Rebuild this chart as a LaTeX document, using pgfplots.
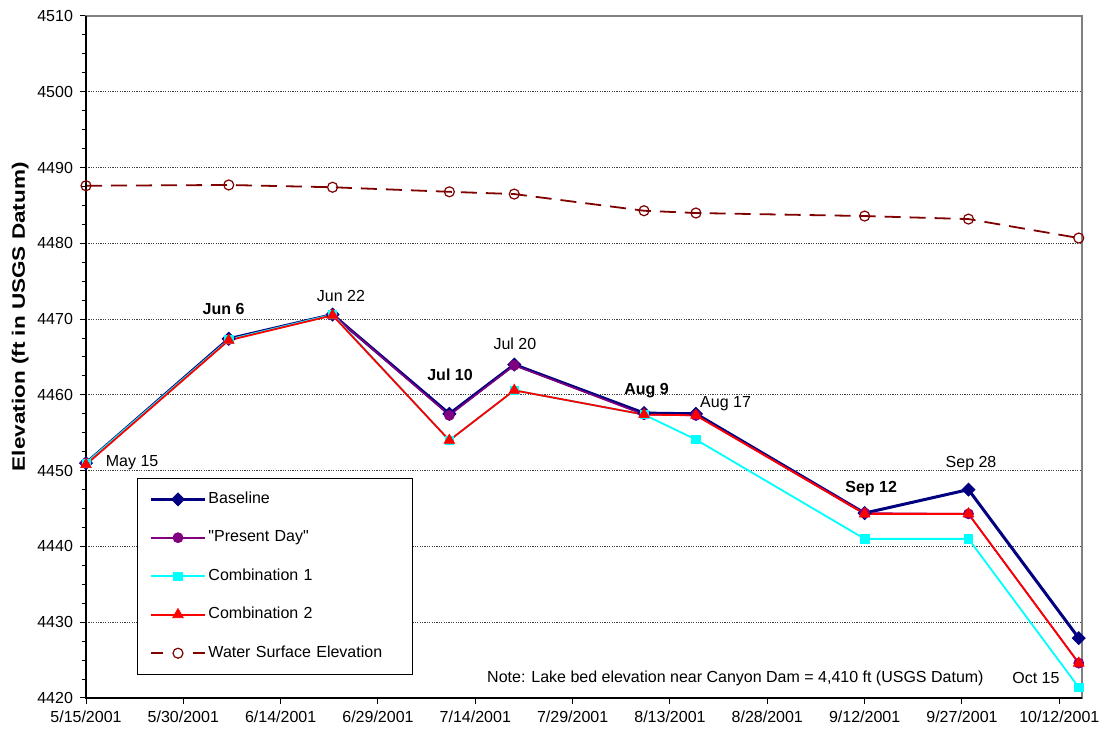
\documentclass[border=0pt]{standalone}
\usepackage{pgfplots}
\pgfplotsset{compat=1.18}
\usepackage{graphicx}
\usepackage{fontspec}
\setmainfont{Liberation Sans}
\newfontfamily\plainq{Liberation Sans}
\definecolor{navyc}{RGB}{0,0,128}
\definecolor{purplec}{RGB}{128,0,128}
\definecolor{cyanc}{RGB}{0,255,255}
\definecolor{redc}{RGB}{255,0,0}
\definecolor{darkredc}{RGB}{128,0,0}
\begin{document}
\begin{tikzpicture}
\begin{axis}[
  name=ax,
  scale only axis,
  width=498pt, height=341pt,
  xmin=0, xmax=153.5,
  ymin=4420, ymax=4510,
  clip=false,
  xtick={0,15,...,150},
  xticklabels={5/15/2001,5/30/2001,6/14/2001,6/29/2001,7/14/2001,7/29/2001,8/13/2001,8/28/2001,9/12/2001,9/27/2001,10/12/2001},
  ytick={4420,4430,...,4510},
  minor y tick num=3,
  yticklabel style={/pgf/number format/1000 sep={}},
  /pgf/number format/assume math mode=true,
  tick label style={font=\fontsize{8}{9}\selectfont},
  xtick pos=bottom, ytick pos=left,
  tick align=outside,
  major tick length=3pt, minor tick length=2pt,
  tick style={black, line width=0.5pt},
  ymajorgrids,
  major grid style={black!75, line width=0.4pt, dash pattern=on 0.6pt off 0.6pt},
  axis line style={gray, line width=0.6pt},
  ylabel={\scalebox{1.25}[1]{\bfseries Elevation (ft in USGS Datum)}},
  ylabel style={font=\fontsize{9}{10}\selectfont, inner sep=0pt, at={(rel axis cs:0,0.559)}, anchor=south, yshift=28.5pt},
  legend style={at={(rel axis cs:0.0512,0.0337)}, anchor=south west, draw=black, line width=0.5pt,
    font=\fontsize{8}{9}\selectfont, row sep=10pt, inner xsep=6pt, inner ysep=6pt,
    nodes={text width=95pt, align=left, inner sep=1pt}},
  legend cell align=left,
  legend image code/.code={
    \draw[mark repeat=2,mark phase=2,#1] plot coordinates {(0pt,0pt) (13.5pt,0pt) (27pt,0pt)};
  },
]
\addplot[color=navyc, line width=1.5pt, mark=square*, mark size=2.3pt, mark options={solid, rotate=45, line width=0.4pt, fill=navyc, draw=navyc}] coordinates {
(0,4451.0) (22,4467.4) (38,4470.6) (56,4457.5) (66,4464.0) (86,4457.6) (94,4457.5) (120,4444.4) (136,4447.5) (153,4427.9)};
\addlegendentry{Baseline}
\addplot[color=purplec, line width=0.8pt, mark=*, mark size=2.5pt, mark options={solid, fill=purplec, draw=purplec, line width=0.4pt}] coordinates {
(0,4451.0) (22,4467.3) (38,4470.6) (56,4457.3) (66,4463.9) (86,4457.4) (94,4457.3) (120,4444.4) (136,4444.3) (153,4424.6)};
\addlegendentry{{\plainq "}Present Day{\plainq "}}
\addplot[color=cyanc, line width=0.9pt, mark=square*, mark size=2.1pt, mark options={solid, fill=cyanc, draw=cyanc, line width=0.3pt}] coordinates {
(0,4451.0) (22,4467.3) (38,4470.6) (56,4454.0) (66,4460.6) (86,4457.4) (94,4454.1) (120,4441.0) (136,4441.0) (153,4421.4)};
\addlegendentry{Combination 1}
\addplot[color=redc, line width=0.9pt, mark=triangle*, mark size=3.1pt, mark options={solid, fill=redc, draw=redc, line width=0.3pt}] coordinates {
(0,4450.8) (22,4467.2) (38,4470.5) (56,4454.0) (66,4460.6) (86,4457.4) (94,4457.3) (120,4444.3) (136,4444.3) (153,4424.6)};
\addlegendentry{Combination 2}
\addplot[color=darkredc, line width=0.9pt, dash pattern=on 8pt off 4.5pt, mark=o, mark size=2.5pt, mark options={solid, fill=white, draw=darkredc, line width=0.6pt},
  legend image post style={dash pattern=on 6pt off 15pt}] coordinates {
(0,4487.6) (22,4487.7) (38,4487.4) (56,4486.8) (66,4486.5) (86,4484.3) (94,4484.0) (120,4483.6) (136,4483.2) (153,4480.7)};
\addlegendentry{Water Surface Elevation}
\draw[black, line width=0.6pt] (rel axis cs:0,1) -- (rel axis cs:0,0) -- (rel axis cs:1,0);
\begin{scope}[every node/.style={font=\fontsize{8}{9}\selectfont, inner sep=0pt}]
\node[anchor=west] at (axis cs:3.0,4451.0) {May 15};
\node at (axis cs:21.2,4471.3) {\bfseries Jun 6};
\node at (axis cs:39.3,4473.0) {Jun 22};
\node at (axis cs:56.1,4462.6) {\bfseries Jul 10};
\node at (axis cs:66.1,4466.7) {Jul 20};
\node at (axis cs:86.4,4460.6) {\bfseries Aug 9};
\node[anchor=west] at (axis cs:94.6,4458.9) {Aug 17};
\node at (axis cs:121.0,4447.6) {\bfseries Sep 12};
\node at (axis cs:136.4,4451.0) {Sep 28};
\node at (axis cs:146.4,4422.6) {Oct 15};
\node[anchor=east] at (axis cs:138.4,4422.6) {Note: Lake bed elevation near Canyon Dam = 4,410 ft (USGS Datum)};
\end{scope}
\end{axis}
\pgfresetboundingbox
\path ([shift={(-43pt,-16pt)}]ax.south west) rectangle ([shift={(9pt,8pt)}]ax.north east);
\end{tikzpicture}
\end{document}
